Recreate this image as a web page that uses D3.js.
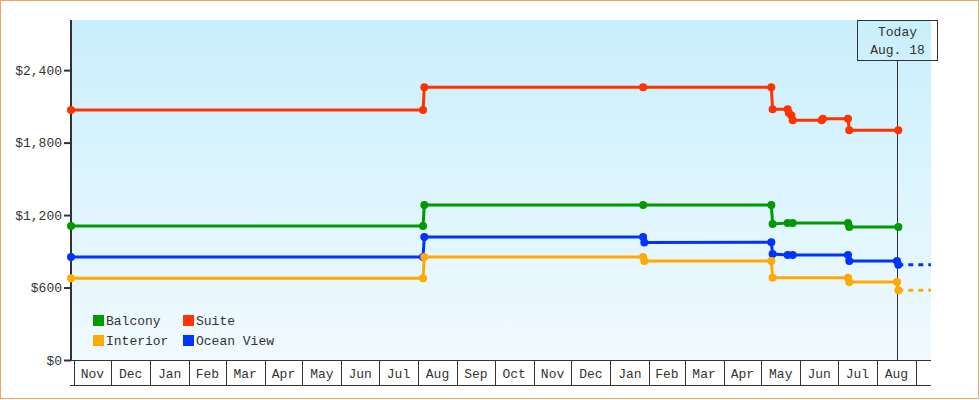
<!DOCTYPE html>
<html lang="en">
<head>
<meta charset="UTF-8">
<script src="https://d3js.org/d3.v7.min.js"></script>
<title>Cabin prices</title>
<style>
  body { margin: 0; background: #fff; }
  text { font-family: "Liberation Mono", "DejaVu Sans Mono", monospace; font-size: 13px; fill: #333; }
</style>
</head>
<body>
<script>
// price points per cabin type: [date, price]
var balcony = [["2015-10-30",1109],["2016-08-05",1109],["2016-08-06",1283],["2017-01-27",1283],
  ["2017-05-09",1283],["2017-05-10",1126],["2017-05-22",1134],["2017-05-26",1134],
  ["2017-07-09",1134],["2017-07-10",1101],["2017-08-18",1101]]
var suite = [["2015-10-30",2069],["2016-08-05",2069],["2016-08-06",2259],["2017-01-27",2259],
  ["2017-05-09",2259],["2017-05-10",2077],["2017-05-22",2077],["2017-05-23",2044],
  ["2017-05-25",2024],["2017-05-26",1985],["2017-06-18",1985],["2017-06-19",1997],
  ["2017-07-09",1997],["2017-07-10",1903],["2017-08-18",1903]]
var oceanView = [["2015-10-30",852],["2016-08-05",852],["2016-08-06",1018],["2017-01-27",1018],
  ["2017-01-28",973],["2017-05-09",975],["2017-05-10",877],["2017-05-22",869],
  ["2017-05-26",869],["2017-07-09",869],["2017-07-10",819],["2017-08-17",819],["2017-08-18",789]]
var interior = [["2015-10-30",677],["2016-08-05",677],["2016-08-06",852],["2017-01-27",852],
  ["2017-01-28",819],["2017-05-09",819],["2017-05-10",681],["2017-07-09",681],
  ["2017-07-10",646],["2017-08-17",646],["2017-08-18",578]]

var seriesNames = ["Balcony", "Suite", "Ocean View", "Interior"]
var seriesData = [balcony, suite, oceanView, interior]
var seriesColors = ["#009900", "#ff3300", "#0033ff", "#ffaa00"]
var projected = ["Ocean View", "Interior"]   // dashed after today
var legendOrder = ["Balcony", "Suite", "Interior", "Ocean View"]

var yTicks = [0, 600, 1200, 1800, 2400]
var startDate = "2015-10-30", endDate = "2017-09-13", todayDate = "2017-08-18"

var width = 980, height = 400
var padding = { top: 20, right: 49, bottom: 40, left: 71 }
var parse = d3.timeParse("%Y-%m-%d")

var svg = d3.select("body").append("svg")
    .attr("width", width)
    .attr("height", height)

// outer frame
svg.append("rect")
    .attr("x", 0.5).attr("y", 0.5)
    .attr("width", 978).attr("height", 398)
    .attr("fill", "none")
    .attr("stroke", "#e8a862")

var xScale = d3.scaleTime()
    .domain([parse(startDate), parse(endDate)])
    .range([padding.left, width - padding.right])
var yScale = d3.scaleLinear()
    .domain([0, 2815])
    .range([height - padding.bottom, padding.top])

var x0 = padding.left, x1 = width - padding.right
var yBottom = height - padding.bottom

// background gradient
var grad = svg.append("defs").append("linearGradient")
    .attr("id", "bg").attr("x1", 0).attr("y1", 0).attr("x2", 0).attr("y2", 1)
grad.append("stop").attr("offset", "0%").attr("stop-color", "#c9effc")
grad.append("stop").attr("offset", "100%").attr("stop-color", "#f1fafe")
svg.append("rect")
    .attr("x", x0).attr("y", padding.top)
    .attr("width", x1 - x0).attr("height", yBottom - padding.top)
    .attr("fill", "url(#bg)")

// month boxes along the bottom
var months = d3.timeMonth.range(d3.timeMonth.ceil(xScale.domain()[0]), xScale.domain()[1])
var xg = svg.append("g").attr("shape-rendering", "crispEdges")
xg.append("line").attr("x1", x0 - 1).attr("x2", x1).attr("y1", yBottom + 0.5).attr("y2", yBottom + 0.5).attr("stroke", "#333")
xg.append("line").attr("x1", x0 - 1).attr("x2", x1).attr("y1", yBottom + 25.5).attr("y2", yBottom + 25.5).attr("stroke", "#333")
xg.selectAll(".mtick").data(months).enter().append("line")
    .attr("x1", function (d) { return Math.round(xScale(d)) + 0.5 })
    .attr("x2", function (d) { return Math.round(xScale(d)) + 0.5 })
    .attr("y1", yBottom).attr("y2", yBottom + 25)
    .attr("stroke", "#333")
xg.selectAll(".mlabel").data(months.slice(0, -1)).enter().append("text")
    .attr("x", function (d) { return (xScale(d) + xScale(d3.timeMonth.offset(d, 1))) / 2 })
    .attr("y", yBottom + 18)
    .attr("text-anchor", "middle")
    .text(d3.timeFormat("%b"))

// y axis
var yAxis = d3.axisLeft(yScale)
    .tickValues(yTicks)
    .tickSize(7)
    .tickPadding(2)
    .tickFormat(d3.format("$,"))
var yg = svg.append("g")
    .attr("transform", "translate(" + x0 + ",0)")
    .call(yAxis)
yg.select(".domain").remove()
yg.selectAll("line").attr("stroke", "#333").attr("stroke-width", 2)
yg.selectAll("text").style("font-family", null).style("font-size", null).attr("fill", "#333")
yg.attr("font-family", null).attr("font-size", null)
svg.append("line")
    .attr("x1", x0).attr("x2", x0)
    .attr("y1", padding.top).attr("y2", yBottom + 1)
    .attr("stroke", "#333").attr("stroke-width", 2)

// today marker
var today = parse(todayDate)
var tx = Math.round(xScale(today)) - 0.5
svg.append("line")
    .attr("x1", tx).attr("x2", tx)
    .attr("y1", 60).attr("y2", yBottom)
    .attr("stroke", "#333")
svg.append("rect")
    .attr("x", tx - 40).attr("y", 20.5)
    .attr("width", 80).attr("height", 40)
    .attr("fill", "none").attr("stroke", "#333")
svg.append("text").attr("x", tx).attr("y", 36).attr("text-anchor", "middle").text("Today")
svg.append("text").attr("x", tx).attr("y", 54).attr("text-anchor", "middle").text(d3.timeFormat("%b. %-d")(today))

// series
var line = d3.line()
    .x(function (d) { return xScale(d.date) })
    .y(function (d) { return yScale(d.price) })

seriesData.forEach(function (raw, i) {
    var pts = raw.map(function (p) { return { date: parse(p[0]), price: p[1] } })
    var color = seriesColors[i]
    var g = svg.append("g")
    if (projected.indexOf(seriesNames[i]) >= 0) {
        var last = pts[pts.length - 1]
        g.append("path")
            .datum([last, { date: xScale.domain()[1], price: last.price }])
            .attr("d", line)
            .attr("fill", "none")
            .attr("stroke", color)
            .attr("stroke-width", 3)
            .attr("stroke-dasharray", "5,5")
    }
    g.append("path")
        .datum(pts)
        .attr("d", line)
        .attr("fill", "none")
        .attr("stroke", color)
        .attr("stroke-width", 3)
    g.selectAll("circle").data(pts).enter().append("circle")
        .attr("cx", function (d) { return xScale(d.date) })
        .attr("cy", function (d) { return yScale(d.price) })
        .attr("r", 4)
        .attr("fill", color)
})

// legend
var lg = svg.append("g")
lg.selectAll("g").data(legendOrder).enter().append("g")
    .attr("transform", function (d, i) { return "translate(" + (93 + (i % 2) * 90) + "," + (315 + Math.floor(i / 2) * 20) + ")" })
    .each(function (d) {
        var el = d3.select(this)
        el.append("rect").attr("width", 11).attr("height", 11)
            .attr("fill", seriesColors[seriesNames.indexOf(d)])
        el.append("text").attr("x", 13).attr("y", 10).text(d)
    })
</script>
</body>
</html>
